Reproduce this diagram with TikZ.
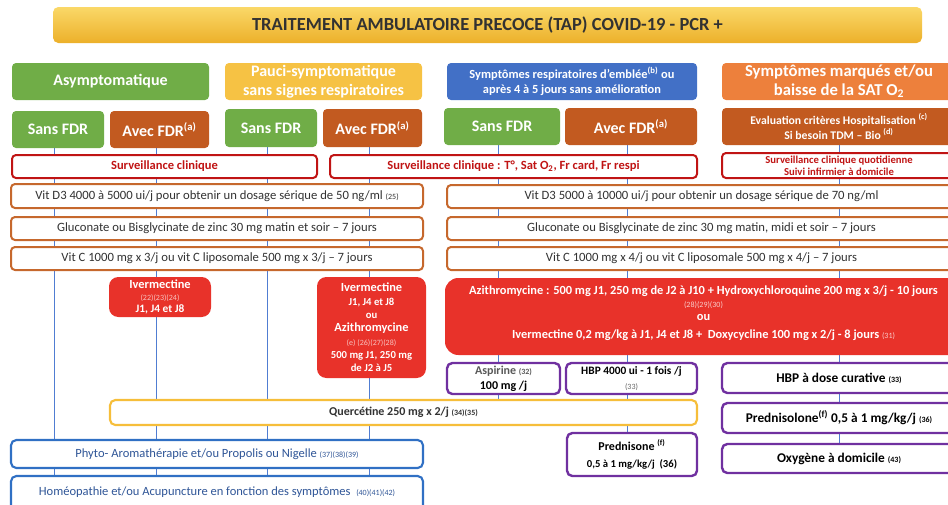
\documentclass[tikz,border=0pt]{standalone}
\usepackage{fontspec}
\setmainfont{Carlito}
\usetikzlibrary{backgrounds,shadings}
\definecolor{ttop}{RGB}{250,216,104}
\definecolor{tbot}{RGB}{236,176,42}
\definecolor{hgreen}{RGB}{112,173,71}
\definecolor{hyellow}{RGB}{246,194,68}
\definecolor{hblue}{RGB}{66,112,198}
\definecolor{horange}{RGB}{237,128,60}
\definecolor{hbrown}{RGB}{194,90,32}
\definecolor{sred}{RGB}{192,20,20}
\definecolor{vbrown}{RGB}{198,104,45}
\definecolor{rfill}{RGB}{232,50,42}
\definecolor{purp}{RGB}{112,48,160}
\definecolor{pblue}{RGB}{48,112,196}
\definecolor{ptext}{RGB}{47,85,151}
\definecolor{qgold}{RGB}{246,190,58}
\definecolor{vline}{RGB}{80,125,210}
\definecolor{dtext}{RGB}{50,50,50}
\newcommand\fsz[2]{\fontsize{#1}{#2}\selectfont}
\newcommand\rf[1]{{\fontsize{6}{7}\selectfont #1}}
\newcommand\pxbox[7]{\node[#2, minimum width={(#5-#3)*0.75pt}, minimum height={(#6-#4)*0.75pt}] (#1) at ({(#3+#5)/2},{(#4+#6)/2}) {#7};}
\tikzset{
  base/.style={inner sep=0pt, outer sep=0pt, align=center},
  hdr/.style={base, rounded corners=3pt, text=white, font=\bfseries\fsz{12}{14}},
  titlebox/.style={base, rounded corners=4pt, top color=ttop, bottom color=tbot, text=dtext, font=\bfseries\fsz{13.85}{15}},
  survbox/.style={base, draw=sred, line width=1.5pt, fill=white, rounded corners=3pt, text=sred, font=\bfseries\fsz{9.4}{11}},
  vitbox/.style={base, draw=vbrown, line width=1.5pt, fill=white, rounded corners=3pt, text=dtext, font=\fsz{9.5}{11}},
  redbox/.style={base, fill=rfill, rounded corners=7pt, text=white, font=\bfseries\fsz{9.3}{11}},
  purpbox/.style={base, draw=purp, line width=1.8pt, fill=white, rounded corners=4pt, text=black, font=\bfseries\fsz{10}{12}},
  bluebox/.style={base, draw=pblue, line width=1.6pt, fill=white, rounded corners=4pt, text=ptext, font=\fsz{9.4}{11}},
  goldbox/.style={base, draw=qgold, line width=1.6pt, fill=white, rounded corners=4pt, text=dtext, font=\bfseries\fsz{9}{11}},
  conn/.style={draw=vline, line width=0.7pt}
}
\begin{document}
\begin{tikzpicture}[x=0.75pt,y=-0.75pt]
\useasboundingbox (0,0) rectangle (948,504);
\clip (0,0) rectangle (948,504);
% title
\pxbox{title}{titlebox}{53}{7}{922}{43}{TRAITEMENT AMBULATOIRE PRECOCE (TAP) COVID-19 - PCR +}
% headers
\pxbox{asym}{hdr, fill=hgreen}{12}{63}{209}{100}{Asymptomatique}
\pxbox{pauci}{hdr, fill=hyellow}{225}{63}{422}{100}{Pauci-symptomatique\\sans signes respiratoires}
\pxbox{resp}{hdr, fill=hblue, font=\bfseries\fsz{9.3}{11.5}}{447}{63}{697}{100}{Symptômes respiratoires d’emblée\textsuperscript{(b)} ou\\après 4 à 5 jours sans amélioration}
\pxbox{marq}{hdr, fill=horange, font=\bfseries\fsz{12.5}{14}}{722}{63}{956}{100}{Symptômes marqués et/ou\\baisse de la SAT O\textsubscript{2}}
% row 2
\pxbox{asans}{hdr, fill=hgreen}{12}{111}{104}{148}{Sans FDR}
\pxbox{aavec}{hdr, fill=hbrown}{110}{111}{209}{148}{Avec FDR\textsuperscript{(a)}}
\pxbox{psans}{hdr, fill=hgreen}{225}{109}{317}{147}{Sans FDR}
\pxbox{pavec}{hdr, fill=hbrown}{323}{109}{422}{147}{Avec FDR\textsuperscript{(a)}}
\pxbox{rsans}{hdr, fill=hgreen}{444}{108}{560}{145}{Sans FDR}
\pxbox{ravec}{hdr, fill=hbrown}{565}{108}{697}{145}{Avec FDR\textsuperscript{(a)}}
\pxbox{evalb}{hdr, fill=hbrown, font=\bfseries\fsz{8.8}{11}}{722}{108}{956}{145}{Evaluation critères Hospitalisation \textsuperscript{(c)}\\Si besoin TDM – Bio \textsuperscript{(d)}}
% surveillance
\pxbox{surv1}{survbox}{12}{155}{317}{178}{Surveillance clinique}
\pxbox{surv2}{survbox}{330}{155}{697}{178}{Surveillance clinique : T°, Sat O\textsubscript{2}, Fr card, Fr respi}
\pxbox{surv3}{survbox, font=\bfseries\fsz{8}{9.2}}{722}{153}{956}{178}{Surveillance clinique quotidienne\\Suivi infirmier à domicile}
% vitamins
\pxbox{vd1}{vitbox}{11}{184}{423}{208}{Vit D3 4000 à 5000 ui/j pour obtenir un dosage sérique de 50 ng/ml \rf{(25)}}
\pxbox{zn1}{vitbox}{11}{217}{423}{240}{Gluconate ou Bisglycinate de zinc 30 mg matin et soir – 7 jours}
\pxbox{vc1}{vitbox}{11}{247}{423}{270}{Vit C 1000 mg x 3/j ou vit C liposomale 500 mg x 3/j – 7 jours}
\pxbox{vd2}{vitbox}{447}{185}{956}{208}{Vit D3 5000 à 10000 ui/j pour obtenir un dosage sérique de 70 ng/ml}
\pxbox{zn2}{vitbox}{447}{217}{956}{240}{Gluconate ou Bisglycinate de zinc 30 mg matin, midi et soir – 7 jours}
\pxbox{vc2}{vitbox}{447}{247}{956}{270}{Vit C 1000 mg x 4/j ou vit C liposomale 500 mg x 4/j – 7 jours}
% red boxes
\pxbox{iv1}{redbox, font=\bfseries\fsz{9.3}{9}}{109}{277}{211}{317}{Ivermectine\\{\color{white!70!rfill}\mdseries\rf{(22)(23)(24)}}\\{\fsz{8.5}{9}J1, J4 et J8}}
\pxbox{iv2}{redbox, font=\bfseries\fsz{8}{10}}{317}{277}{426}{378}{{\fsz{9.3}{11}Ivermectine}\\J1, J4 et J8\\ou\\{\fsz{9.3}{11}Azithromycine}\\{\color{white!70!rfill}\mdseries\rf{(e) (26)(27)(28)}}\\500 mg J1, 250 mg\\de J2 à J5}
\pxbox{azi}{redbox, rounded corners=10pt, font=\bfseries\fsz{9.3}{10}}{445}{278}{962}{355}{Azithromycine : 500 mg J1, 250 mg de J2 à J10 + Hydroxychloroquine 200 mg x 3/j - 10 jours\\{\color{white!75!rfill}\mdseries\rf{(28)(29)(30)}}\\ou\\[3pt]Ivermectine 0,2 mg/kg à J1, J4 et J8 +~ Doxycycline 100 mg x 2/j - 8 jours {\color{white!75!rfill}\mdseries\rf{(31)}}\\[-3pt]}
% purple boxes
\pxbox{asp}{purpbox, font=\bfseries\fsz{9}{11}}{447}{363}{560}{394}{{\color{black!65}Aspirine \rf{(32)}}\\100 mg /j}
\pxbox{hbp}{purpbox, font=\bfseries\fsz{8.5}{11}}{566}{363}{697}{394}{HBP 4000 ui - 1 fois /j\\{\color{black!60}\mdseries\rf{(33)}}}
\pxbox{hbpc}{purpbox}{722}{363}{956}{393}{HBP à dose curative \rf{(33)}}
\pxbox{prl}{purpbox}{722}{403}{956}{433}{Prednisolone\textsuperscript{(f)} 0,5 à 1 mg/kg/j \rf{(36)}}
\pxbox{oxy}{purpbox}{722}{444}{956}{473}{Oxygène à domicile \rf{(43)}}
\pxbox{prd}{purpbox, font=\bfseries\fsz{8}{13}}{567}{433}{697}{476}{{\fsz{9}{13}Prednisone \textsuperscript{(f)}}\\0,5 à 1 mg/kg/j~ (36)}
% others
\pxbox{quer}{goldbox}{110}{400}{697}{425}{Quercétine 250 mg x 2/j \rf{(34)(35)}}
\pxbox{phyto}{bluebox}{11}{440}{423}{468}{Phyto- Aromathérapie et/ou Propolis ou Nigelle \rf{(37)(38)(39)}}
\pxbox{homeo}{bluebox}{11}{476}{423}{512}{\raisebox{4pt}{Homéopathie et/ou Acupuncture en fonction des symptômes~ \rf{(40)(41)(42)}}}
% connectors
\begin{pgfonlayer}{background}
\foreach \n in {asans,aavec,psans,pavec}{
  \draw[conn] ([xshift=-2.5pt]\n.south) -- ([xshift=-2.5pt]\n.south |- homeo.north);
}
\draw[conn] ([xshift=-3pt]rsans.south) -- ([xshift=-3pt]rsans.south |- quer.north);
\draw[conn] ([xshift=-3pt]ravec.south) -- ([xshift=-3pt]ravec.south |- prd.north);
\draw[conn] (evalb.south) -- (evalb.south |- oxy.north);
\end{pgfonlayer}
\end{tikzpicture}
\end{document}
